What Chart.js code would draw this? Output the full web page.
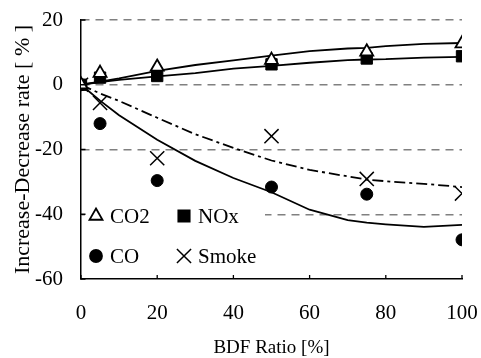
<!DOCTYPE html>
<html>
<head>
<meta charset="utf-8">
<script src="https://cdn.jsdelivr.net/npm/chart.js@4.4.1/dist/chart.umd.min.js"></script>
<style>
  html, body { margin: 0; padding: 0; background: #fff; }
  #wrap { width: 481px; height: 358px; }
</style>
</head>
<body>
<div id="wrap"><canvas id="emissionChart"></canvas></div>
<script>
// measured points (BDF ratio vs increase/decrease rate, %)
const bdfRatio = [0, 5, 20, 50, 75, 100];
const co2 = [0, 3.6, 5.5, 7.6, 10.2, 12.7];
const nox = [0, 2.2, 2.7, 6.3, 8.1, 8.8];
const co = [0, -12.0, -29.6, -31.6, -33.8, -47.9];
const smoke = [0, -5.6, -22.7, -15.9, -29.1, -33.6];

// fitted curves
const fitRatio = [0, 5, 10, 20, 30, 40, 50, 60, 70, 75, 80, 90, 100];
const co2Fit = [0, 1.0, 2.0, 4.3, 6.1, 7.5, 9.0, 10.4, 11.2, 11.4, 11.9, 12.6, 12.9];
const noxFit = [0, 0.8, 1.5, 2.6, 3.6, 5.0, 5.8, 6.8, 7.6, 7.8, 7.9, 8.4, 8.6];
const coFit = [0, -4.9, -9.4, -17.0, -23.5, -28.8, -33.2, -38.6, -41.8, -42.6, -43.1, -43.9, -43.3];
const smokeFit = [0, -2.7, -5.0, -10.2, -15.3, -19.5, -23.4, -26.3, -28.3, -29.3, -29.8, -30.6, -31.6];

const yTicks = [20, 0, -20, -40, -60];
const xTicks = [0, 20, 40, 60, 80, 100];

const serif = '"Liberation Serif", "Times New Roman", serif';

function toPoints(xs, ys) {
    return xs.map((x, i) => ({ x: x, y: ys[i] }));
}

// white page behind the chart
const whiteBg = {
    id: 'whiteBg',
    beforeDraw(chart) {
        const ctx = chart.ctx;
        ctx.save();
        ctx.fillStyle = '#fff';
        ctx.fillRect(0, 0, chart.width, chart.height);
        ctx.restore();
    }
};

// legend sits inside the plot, lower left, 2x2
const legendItems = [
    { label: 'CO2', pointStyle: 'triangle', radius: 7.5, fill: '#fff', col: 0, row: 0 },
    { label: 'NOx', pointStyle: 'rect', radius: 8, fill: '#000', col: 1, row: 0 },
    { label: 'CO', pointStyle: 'circle', radius: 6, fill: '#000', col: 0, row: 1 },
    { label: 'Smoke', pointStyle: 'crossRot', radius: 10, fill: '#000', col: 1, row: 1 }
];

const insideLegend = {
    id: 'insideLegend',
    afterDatasetsDraw(chart) {
        const ctx = chart.ctx;
        const area = chart.chartArea;
        const x0 = area.left + 4;
        const y0 = area.bottom - 81;
        ctx.save();
        ctx.fillStyle = '#fff';
        ctx.fillRect(x0, y0, 180, 78);
        ctx.font = '21px ' + serif;
        ctx.textBaseline = 'middle';
        legendItems.forEach(item => {
            const mx = x0 + 11 + item.col * 88;
            const my = y0 + 18 + item.row * 40;
            ctx.fillStyle = item.fill;
            ctx.strokeStyle = '#000';
            ctx.lineWidth = item.pointStyle === 'crossRot' ? 1.5 : 1.8;
            Chart.helpers.drawPoint(ctx, {
                pointStyle: item.pointStyle,
                radius: item.radius,
                rotation: 0,
                borderWidth: ctx.lineWidth
            }, mx, my);
            ctx.fillStyle = '#000';
            ctx.fillText(item.label, mx + 14, my + 1);
        });
        ctx.restore();
    }
};

// short tick marks pointing into the plot
const innerTicks = {
    id: 'innerTicks',
    afterDraw(chart) {
        const ctx = chart.ctx;
        const area = chart.chartArea;
        const xs = chart.scales.x;
        const ys = chart.scales.y;
        ctx.save();
        ctx.strokeStyle = '#000';
        ctx.lineWidth = 1.3;
        ctx.beginPath();
        yTicks.forEach(v => {
            const py = ys.getPixelForValue(v);
            ctx.moveTo(area.left, py);
            ctx.lineTo(area.left + 4.5, py);
        });
        xTicks.forEach(v => {
            const px = xs.getPixelForValue(v);
            ctx.moveTo(px, area.bottom);
            ctx.lineTo(px, area.bottom - 4);
        });
        ctx.stroke();
        ctx.restore();
    }
};

function fitLine(ys, dash) {
    return {
        data: toPoints(fitRatio, ys),
        showLine: true,
        borderColor: '#000',
        borderWidth: 1.8,
        borderDash: dash,
        pointRadius: 0,
        fill: false,
        tension: 0,
        order: 2
    };
}

function markers(label, ys, style, radius, fill, width) {
    return {
        label: label,
        data: toPoints(bdfRatio, ys),
        showLine: false,
        pointStyle: style,
        pointRadius: radius,
        pointBackgroundColor: fill,
        pointBorderColor: '#000',
        pointBorderWidth: width,
        order: 1
    };
}

const ctx = document.getElementById('emissionChart').getContext('2d');
new Chart(ctx, {
    type: 'scatter',
    data: {
        datasets: [
            fitLine(co2Fit, []),
            fitLine(noxFit, []),
            fitLine(coFit, []),
            fitLine(smokeFit, [11, 4, 3, 4]),
            markers('CO2', co2, 'triangle', 7.5, '#fff', 1.8),
            markers('NOx', nox, 'rect', 8, '#000', 1),
            markers('CO', co, 'circle', 6, '#000', 1),
            markers('Smoke', smoke, 'crossRot', 10, '#000', 1.5)
        ]
    },
    options: {
        responsive: true,
        maintainAspectRatio: false,
        animation: false,
        layout: { padding: { top: 20, right: 19, left: 0, bottom: 0 } },
        plugins: {
            legend: { display: false },
            tooltip: { enabled: false }
        },
        scales: {
            x: {
                type: 'linear',
                min: 0,
                max: 100,
                afterFit: s => { s.height = 79; s.paddingLeft = 0; s.paddingRight = 0; },
                afterBuildTicks: s => { s.ticks = xTicks.map(v => ({ value: v })); },
                grid: { display: false, drawTicks: false },
                border: { display: true, color: '#000', width: 1.5 },
                ticks: { color: '#000', padding: 22, maxRotation: 0, font: { family: serif, size: 21 } },
                title: {
                    display: true,
                    text: 'BDF Ratio [%]',
                    color: '#000',
                    padding: { top: 0, bottom: 0 },
                    font: { family: serif, size: 19, lineHeight: 1.0 }
                }
            },
            y: {
                type: 'linear',
                min: -60,
                max: 20,
                afterFit: s => { s.width = 81; s.paddingTop = 0; s.paddingBottom = 0; },
                afterBuildTicks: s => { s.ticks = yTicks.map(v => ({ value: v })); },
                grid: {
                    drawTicks: false,
                    lineWidth: 1.5,
                    color: c => (c.tick && c.tick.value === -60) ? 'rgba(0,0,0,0)' : '#808080'
                },
                border: { display: true, color: '#000', width: 1.5, dash: [8, 6] },
                ticks: { color: '#000', padding: 18, font: { family: serif, size: 21 } },
                title: {
                    display: true,
                    text: 'Increase-Decrease rate [ % ]',
                    color: '#000',
                    padding: { top: 10, bottom: 0 },
                    font: { family: serif, size: 22, lineHeight: 1.2 }
                }
            }
        }
    },
    plugins: [whiteBg, insideLegend, innerTicks]
});
</script>
</body>
</html>
